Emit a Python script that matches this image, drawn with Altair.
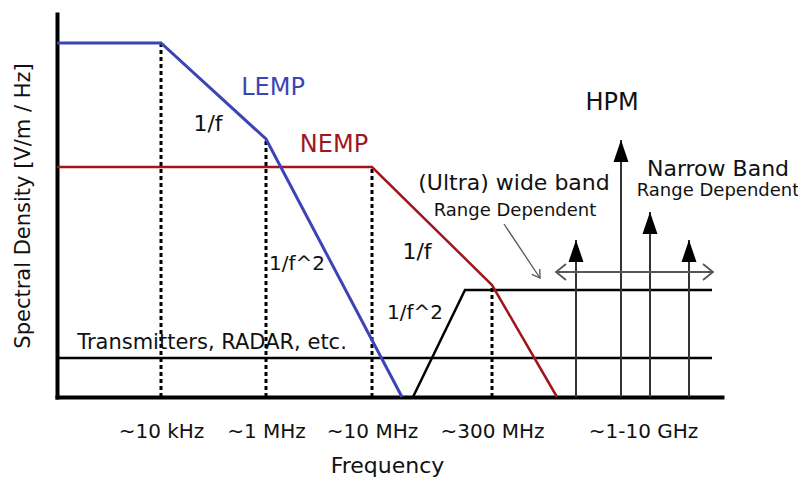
import altair as alt
import pandas as pd

FONT = "DejaVu Sans"
INK = "#111111"
BLUE = "#3d44b5"
RED = "#a0161c"

# ---- schematic data (x: position along frequency axis, y: spectral density level) ----
lemp_x = [0, 104, 209, 345]
lemp_y = [354, 354, 258, 0]
nemp_x = [0, 315, 435, 500]
nemp_y = [230, 230, 112, 0]
uwb_x = [356, 408, 655]
uwb_y = [0, 107, 107]
tx_x = [0, 655]
tx_y = [39, 39]
corner_x = [104, 209, 315, 435]
corner_y = [354, 258, 230, 112]
hpm_x = [519, 564, 593, 632]
hpm_y = [157, 257, 185, 157]
band_x = [499, 656]
band_y = [125, 125]
pointer_x = [447, 483]
pointer_y = [173, 119]
tick_pos = [104, 209, 315, 435, 586]
tick_labels = ["~10 kHz", "~1 MHz", "~10 MHz", "~300 MHz", "~1-10 GHz"]

big_text = ["LEMP"]
big_x = [216]
big_y = [309]
red_text = ["NEMP"]
red_x = [277]
red_y = [252]
slope_text = ["1/f", "1/f"]
slope_x = [151, 360]
slope_y = [273, 145]
slope2_text = ["1/f^2", "1/f^2"]
slope2_x = [240, 358]
slope2_y = [133, 84]
head_text = ["(Ultra) wide band", "Narrow Band"]
head_x = [457, 661]
head_y = [214, 228]
sub_text = ["Range Dependent", "Range Dependent"]
sub_x = [458, 661]
sub_y = [186, 206]
hpm_text = ["HPM"]
hpm_tx = [555]
hpm_ty = [294]
tx_text = ["Transmitters, RADAR, etc."]
tx_tx = [155]
tx_ty = [54]

# ---- scales & axes ----
xs = alt.Scale(domain=[0, 665], nice=False, zero=False)
ys = alt.Scale(domain=[0, 383], nice=False, zero=False)

label_expr = ""
for p, t in zip(tick_pos, tick_labels):
    label_expr += f"datum.value == {p} ? '{t}' : "
label_expr += "''"

xaxis = alt.Axis(
    values=tick_pos, labelExpr=label_expr, ticks=False, tickSize=0, grid=False,
    domainColor="black", domainWidth=4, domainCap="square",
    labelFont=FONT, labelFontSize=20, labelColor=INK, labelPadding=24,
    labelAngle=0, labelFlush=False, labelOverlap=False,
    title="Frequency", titleFont=FONT, titleFontSize=22, titleFontWeight="normal",
    titleColor=INK, titleX=330, titleY=75, titleBaseline="alphabetic", titleAlign="center",
)
yaxis = alt.Axis(
    ticks=False, labels=False, grid=False,
    domainColor="black", domainWidth=4, domainCap="square",
    title="Spectral Density [V/m / Hz]", titleFont=FONT, titleFontSize=21,
    titleFontWeight="normal", titleColor=INK, titleX=-34, titleY=191.5,
    titleBaseline="middle", titleAlign="center", titleAngle=270,
)

X = alt.X("x:Q", scale=xs, axis=xaxis)
Y = alt.Y("y:Q", scale=ys, axis=yaxis)


def seg_df(xv, yv):
    return pd.DataFrame({"x": xv, "y": yv, "order": list(range(len(xv)))})


# dotted corner markers
dots = pd.DataFrame({"x": corner_x, "y": [0] * len(corner_x), "y2": corner_y})
dotted = alt.Chart(dots).mark_rule(color="black", strokeWidth=3, strokeDash=[4, 3]).encode(
    x=X, y=Y, y2="y2:Q")

# black lines (transmitters, UWB)
blk = pd.concat([seg_df(tx_x, tx_y).assign(s="tx"), seg_df(uwb_x, uwb_y).assign(s="uwb")])
black_lines = alt.Chart(blk).mark_line(color="black", strokeWidth=2.5).encode(
    x=X, y=Y, detail="s:N", order="order:Q")

lemp = alt.Chart(seg_df(lemp_x, lemp_y)).mark_line(color=BLUE, strokeWidth=3).encode(
    x=X, y=Y, order="order:Q")
nemp = alt.Chart(seg_df(nemp_x, nemp_y)).mark_line(color=RED, strokeWidth=2.5).encode(
    x=X, y=Y, order="order:Q")

# HPM arrows
hp = pd.DataFrame({"x": hpm_x, "y": [0] * len(hpm_x), "y2": hpm_y})
hpm_lines = alt.Chart(hp).mark_rule(color="#333333", strokeWidth=2).encode(
    x=X, y=Y, y2="y2:Q")
heads = alt.Chart(pd.DataFrame({"x": hpm_x, "y": hpm_y})).mark_point(
    shape="M0,0L0.68,2L-0.68,2Z", size=484, filled=True, color="black", opacity=1,
    strokeWidth=0).encode(x=X, y=Y)

# band double arrow
bd = pd.DataFrame({"x": [band_x[0]], "x2": [band_x[1]], "y": [band_y[0]]})
band = alt.Chart(bd).mark_rule(color="#555555", strokeWidth=1.8).encode(
    x=X, x2="x2:Q", y=Y)
left_chev = alt.Chart(pd.DataFrame({"x": [band_x[0]], "y": [band_y[0]]})).mark_point(
    shape="M1.25,-1L0,0L1.25,1", size=256, filled=False, color="#555555", opacity=1,
    strokeWidth=1.8).encode(x=X, y=Y)
right_chev = alt.Chart(pd.DataFrame({"x": [band_x[1]], "y": [band_y[1]]})).mark_point(
    shape="M-1.25,-1L0,0L-1.25,1", size=256, filled=False, color="#555555", opacity=1,
    strokeWidth=1.8).encode(x=X, y=Y)

# pointer arrow from "Range Dependent" label
pt = pd.DataFrame({"x": [pointer_x[0]], "y": [pointer_y[0]], "x2": [pointer_x[1]], "y2": [pointer_y[1]]})
pointer = alt.Chart(pt).mark_rule(color="#555555", strokeWidth=1.3).encode(
    x=X, y=Y, x2="x2:Q", y2="y2:Q")
pointer_head = alt.Chart(pd.DataFrame({"x": [pointer_x[1]], "y": [pointer_y[1]]})).mark_point(
    shape="M-0.8,-1.25L0,0L0.8,-1.25", size=144, filled=False, color="#555555", opacity=1,
    strokeWidth=1.3, angle=326).encode(x=X, y=Y)


def texts(tx, xv, yv, size, color=INK):
    df = pd.DataFrame({"x": xv, "y": yv, "t": tx})
    return alt.Chart(df).mark_text(font=FONT, fontSize=size, color=color,
                                   align="center", baseline="middle").encode(
        x=X, y=Y, text="t:N")


layers = [
    dotted, black_lines, hpm_lines, band, left_chev, right_chev, pointer, pointer_head,
    heads, nemp, lemp,
    texts(big_text, big_x, big_y, 24, BLUE),
    texts(red_text, red_x, red_y, 24, RED),
    texts(slope_text, slope_x, slope_y, 22),
    texts(slope2_text, slope2_x, slope2_y, 20),
    texts(head_text, head_x, head_y, 22),
    texts(sub_text, sub_x, sub_y, 18),
    texts(hpm_text, hpm_tx, hpm_ty, 24),
    texts(tx_text, tx_tx, tx_ty, 21),
]

chart = alt.layer(*layers).properties(
    width=665, height=383,
    padding={"left": 49, "top": 6, "right": 76, "bottom": 80},
    autosize="none",
    background="white",
).configure_view(strokeWidth=0)

chart.save("out.html", embed_options={"renderer": "svg", "actions": False})
